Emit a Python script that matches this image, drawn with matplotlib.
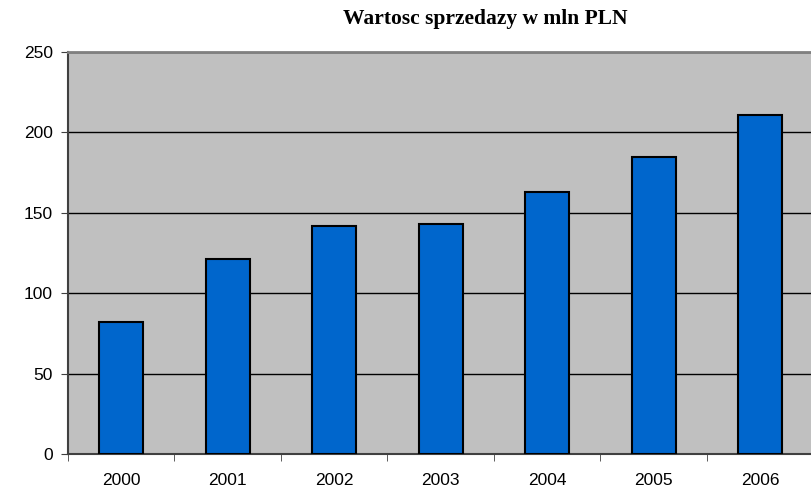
import matplotlib.pyplot as plt
import numpy as np

# dane
years = ['2000', '2001', '2002', '2003', '2004', '2005', '2006']
sales = [82, 121, 142, 143, 163, 185, 211]

fig = plt.figure(figsize=(8.11, 4.92), dpi=100)
# prawa krawedz wykresu wychodzi troche poza obraz
ax = fig.add_axes([68 / 811, 1 - 454 / 492, 745.5 / 811, 402 / 492])
ax.set_facecolor('#C0C0C0')

x = np.arange(len(years))
ax.bar(x, sales, width=0.415, color='#0066CC', edgecolor='black', linewidth=1.5, zorder=3)

ax.set_xlim(-0.5, len(years) - 0.5)
ax.set_ylim(0, 250)
ax.set_yticks(range(0, 251, 50))
ax.yaxis.grid(True, color='black', linewidth=1, zorder=1)

ax.set_xticks(x)
ax.set_xticklabels(years)
ax.set_xticks(np.arange(-0.5, len(years), 1), minor=True)
ax.tick_params(axis='x', which='major', length=0, pad=14)
ax.tick_params(axis='x', which='minor', length=5, direction='out', color='#404040')
ax.tick_params(axis='y', length=5, direction='out', color='#404040', pad=6)

for lab in ax.get_xticklabels() + ax.get_yticklabels():
    lab.set_family('Liberation Sans')
    lab.set_fontsize(12.5)

for s in ['top', 'right']:
    ax.spines[s].set_color('#808080')
    ax.spines[s].set_linewidth(2)
ax.spines['left'].set_color('#404040')
ax.spines['left'].set_linewidth(1.5)
ax.spines['bottom'].set_color('#404040')
ax.spines['bottom'].set_linewidth(1.5)

fig.text(485 / 811, 1 - 19 / 492, 'Wartosc sprzedazy w mln PLN', ha='center', va='center',
         family='Liberation Serif', fontweight='bold', fontsize=15.5)

fig.savefig('out.png', dpi=100)
